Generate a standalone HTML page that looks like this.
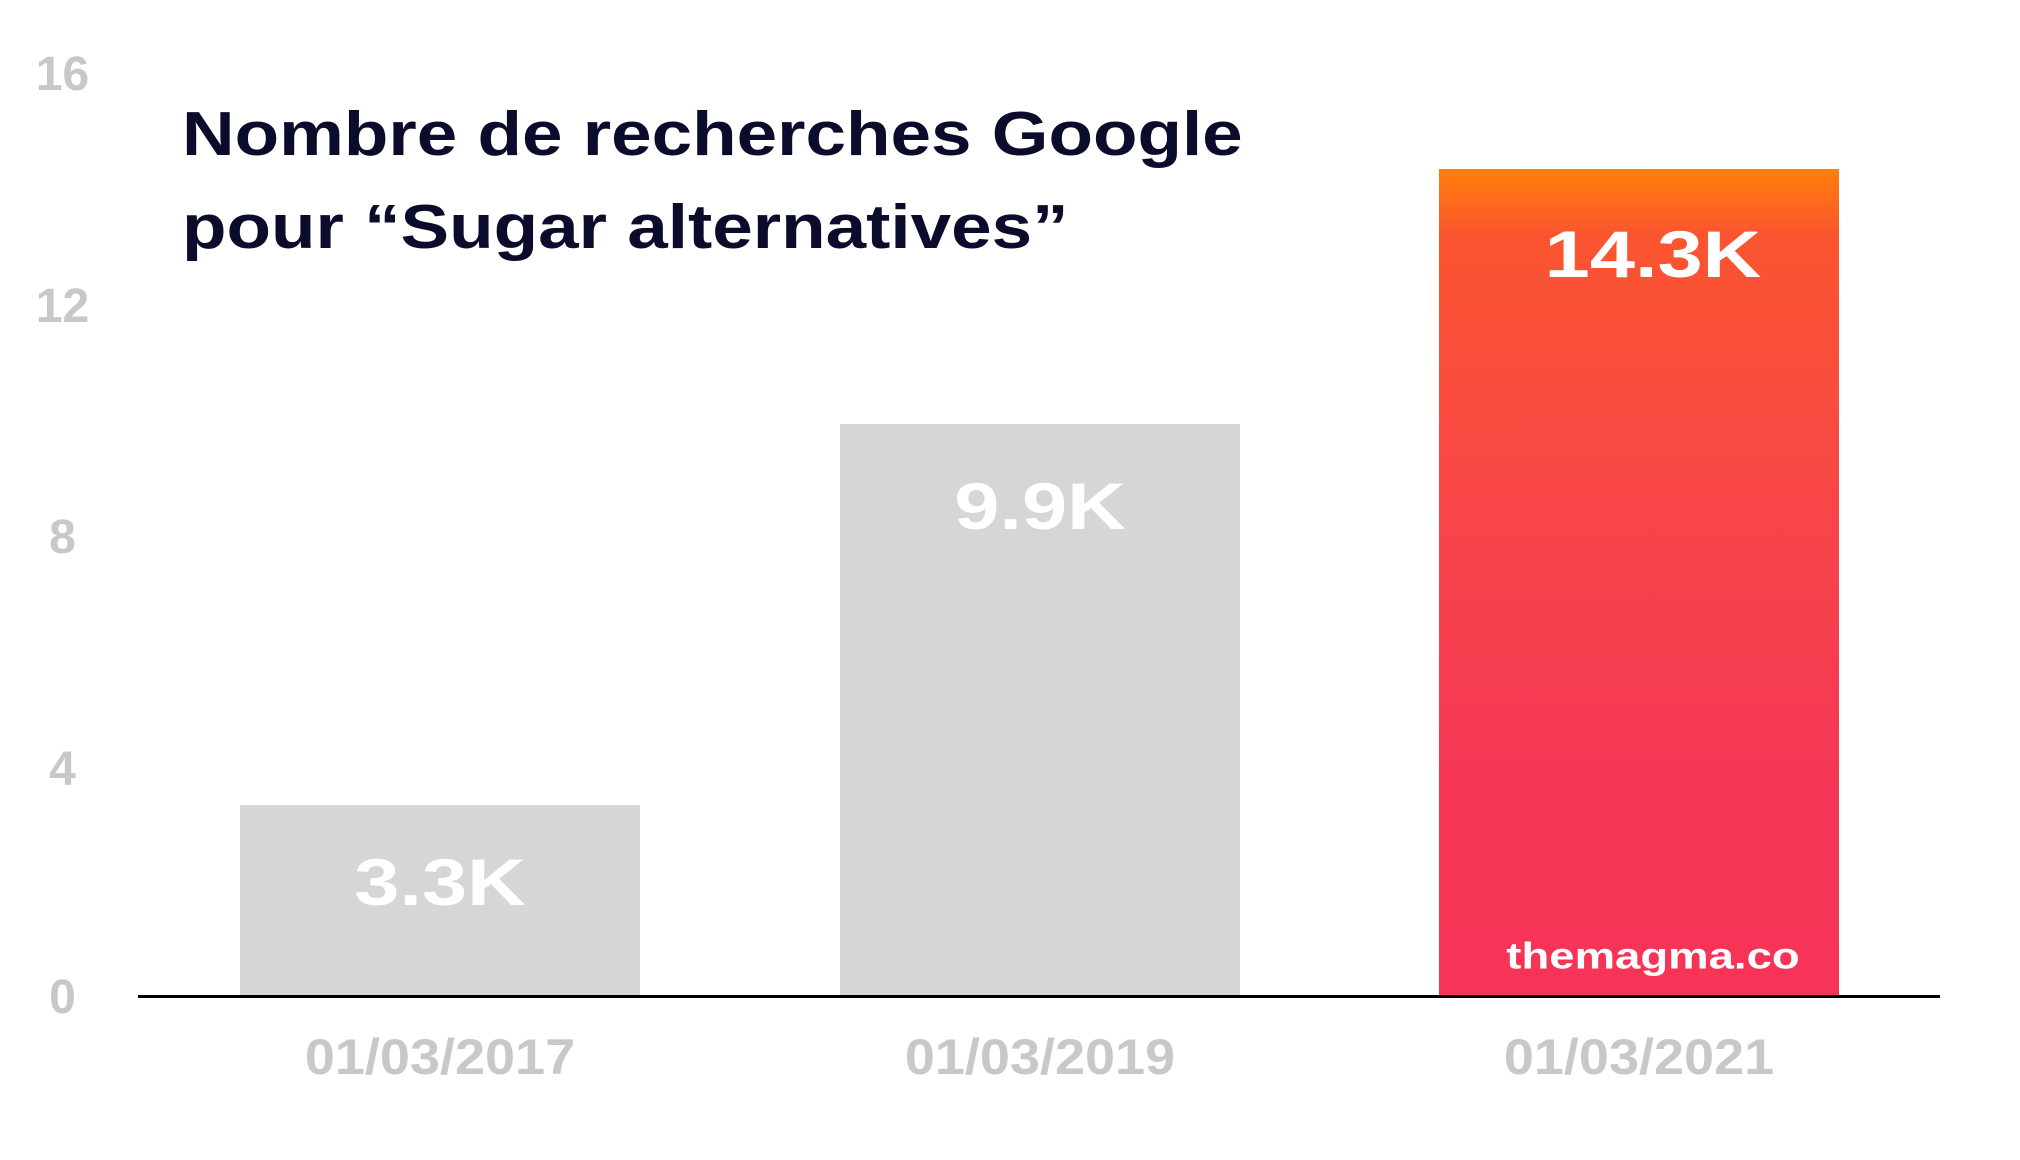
<!DOCTYPE html>
<html><head><meta charset="utf-8"><style>
body{margin:0;width:2020px;height:1160px;background:#fff;position:relative;overflow:hidden;font-family:"Liberation Sans",sans-serif}
.a{position:absolute}
.yl{position:absolute;left:30px;width:65px;text-align:center;color:#c8c8c8;font-size:48px;font-weight:bold;line-height:1;transform:translateY(-50%)}
.xl{position:absolute;top:1032px;width:400px;text-align:center;color:#c8c8c8;font-size:50px;font-weight:bold;line-height:1;transform:scaleX(1.08)}
.bar{position:absolute;width:400px}
.v{position:absolute;width:400px;text-align:center;color:#fff;font-size:66px;font-weight:bold;line-height:1;transform:translateY(-50%) scaleX(1.23)}
</style></head><body>
<div class="yl" style="top:75px">16</div>
<div class="yl" style="top:307px">12</div>
<div class="yl" style="top:538px">8</div>
<div class="yl" style="top:770px">4</div>
<div class="yl" style="top:998px">0</div>
<div class="a" style="left:182px;top:88px;font-size:62px;font-weight:bold;color:#0b0b2b;line-height:93px;transform:scaleX(1.175);transform-origin:0 0;white-space:nowrap">Nombre de recherches Google<br>pour “Sugar alternatives”</div>
<div class="bar" style="left:240px;top:805px;height:191px;background:#d6d6d6"></div>
<div class="bar" style="left:840px;top:424px;height:572px;background:#d6d6d6"></div>
<div class="bar" style="left:1439px;top:169px;height:827px;background:linear-gradient(#ff7f0a 0%,#fb5530 8%,#f7444a 45%,#f53656 75%,#f53457 100%)"></div>
<div class="a" style="left:138px;top:995px;width:1802px;height:3px;background:#000"></div>
<div class="v" style="left:240px;top:882px">3.3K</div>
<div class="v" style="left:840px;top:506px">9.9K</div>
<div class="v" style="left:1453px;top:254px">14.3K</div>
<div class="v" style="left:1453px;top:956px;font-size:37px">themagma.co</div>
<div class="xl" style="left:240px">01/03/2017</div>
<div class="xl" style="left:840px">01/03/2019</div>
<div class="xl" style="left:1439px">01/03/2021</div>
</body></html>
